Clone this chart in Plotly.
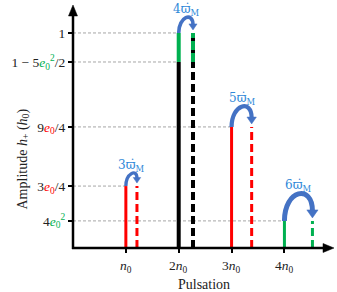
import plotly.graph_objects as go

# ---- data ----
harmonics = [1, 2, 3, 4]                      # n0, 2n0, 3n0, 4n0
x_tick_labels = ["<i>n</i><sub>0</sub>", "2<i>n</i><sub>0</sub>", "3<i>n</i><sub>0</sub>", "4<i>n</i><sub>0</sub>"]
shift = [0.21, 0.27, 0.38, 0.53]              # shift k*varpi_dot (in n0 units)
shift_labels = ["3ϖ̇<sub>M</sub>", "4ϖ̇<sub>M</sub>", "5ϖ̇<sub>M</sub>", "6ϖ̇<sub>M</sub>"]
amp_low = [0.288, 0.865, 0.563, 0.126]        # main part
amp_high = [None, 1.0, None, None]            # second order part on 2n0
bar_colors = ["#FF0000", "#000000", "#FF0000", "#00B050"]
y_tick_vals = [0.126, 0.288, 0.563, 0.865, 1.0]
GR = "#00B050"
RD = "#FF0000"
y_tick_labels = [
    "4<span style='color:%s'><i>e</i><sub>0</sub><sup>2</sup></span>" % GR,
    "3<span style='color:%s'><i>e</i><sub>0</sub></span>/4" % RD,
    "9<span style='color:%s'><i>e</i><sub>0</sub></span>/4" % RD,
    "1 − 5<span style='color:%s'><i>e</i><sub>0</sub><sup>2</sup></span>/2" % GR,
    "1",
]
grid_to = [4, 1, 3, 2, 2]                     # which harmonic each guide line reaches

# ---- layout constants ----
W, H = 337, 292
ML, MR, MT, MB = 73, 5, 5, 44
XR = [0, 4.9]
YR = [0, 1.13]
PW, PH = W - ML - MR, H - MT - MB
xppu = PW / (XR[1] - XR[0])
yppu = PH / (YR[1] - YR[0])
FONT = "Liberation Serif"
ARC = "#4472C4"
LBL = "#2F88D8"
TXT = "#222222"


def px(xp):   # pixel x -> paper
    return (xp - ML) / PW


def py(yp):   # pixel y -> paper
    return (H - MB - yp) / PH


fig = go.Figure()

# guide lines
shapes = []
for v, h in zip(y_tick_vals, grid_to):
    shapes.append(dict(type="line", xref="x", yref="y", x0=0, x1=h, y0=v, y1=v,
                       line=dict(color="#A6A6A6", width=1, dash="3px,2px"), layer="below"))

# bars
for i, h in enumerate(harmonics):
    xs, xd = h, h + shift[i]
    top = amp_high[i] if amp_high[i] is not None else amp_low[i]
    lw = 4 if bar_colors[i] == "#000000" else 3
    fig.add_trace(go.Scatter(x=[xs, xs], y=[0, amp_low[i]], mode="lines",
                             line=dict(color=bar_colors[i], width=lw), hoverinfo="skip"))
    fig.add_trace(go.Scatter(x=[xd, xd], y=[0, top], mode="lines",
                             line=dict(color=bar_colors[i], width=lw, dash="8px,4px"), hoverinfo="skip"))
    if amp_high[i] is not None:
        fig.add_trace(go.Scatter(x=[xs, xs], y=[amp_low[i], amp_high[i]], mode="lines",
                                 line=dict(color=GR, width=lw), hoverinfo="skip"))
        fig.add_trace(go.Scatter(x=[xd, xd], y=[amp_low[i], amp_high[i]], mode="lines",
                                 line=dict(color=GR, width=lw, dash="9px,3px"), hoverinfo="skip"))

# arcs with arrowheads and labels
annotations = []
for i, h in enumerate(harmonics):
    xs, xd = h, h + shift[i]
    top = amp_high[i] if amp_high[i] is not None else amp_low[i]
    wpx = shift[i] * xppu
    hpx = 0.85 * wpx
    lw = 2.2 + wpx / 10
    a = (2.5 + wpx / 9) / xppu          # half width of arrow head
    b = (3 + wpx / 7) / yppu            # arrow head length
    tip = top + 3 / yppu
    y0 = top
    y1 = tip + b
    c = hpx / 0.75 / yppu
    path = "M %f,%f C %f,%f %f,%f %f,%f" % (xs, y0, xs, y0 + c, xd, y1 + c * 0.85, xd, y1)
    shapes.append(dict(type="path", xref="x", yref="y", path=path,
                       line=dict(color=ARC, width=lw)))
    tri = "M %f,%f L %f,%f L %f,%f Z" % (xd - a, y1 + 1 / yppu, xd + a, y1 + 1 / yppu, xd, tip)
    shapes.append(dict(type="path", xref="x", yref="y", path=tri,
                       fillcolor=ARC, line=dict(color=ARC, width=0.5)))
    apex = y0 + hpx / yppu
    annotations.append(dict(x=(xs + xd) / 2, y=apex, yshift=11, xref="x", yref="y",
                            text=shift_labels[i], showarrow=False,
                            font=dict(family="DejaVu Serif", size=12, color=LBL)))

# axes lines with arrow heads (paper coordinates)
shapes.append(dict(type="line", xref="paper", yref="paper", x0=0, x1=0, y0=py(H - MB + 1), y1=py(MT + 8),
                   line=dict(color="#000", width=2.5)))
shapes.append(dict(type="line", xref="paper", yref="paper", x0=px(ML - 1), x1=px(W - 11), y0=0, y1=0,
                   line=dict(color="#000", width=2.5)))
shapes.append(dict(type="path", xref="paper", yref="paper",
                   path="M %f,%f L %f,%f L %f,%f Z" % (px(ML - 4.5), py(MT + 11), px(ML + 4.5), py(MT + 11),
                                                     px(ML), py(MT)),
                   fillcolor="#000", line=dict(color="#000", width=0.5)))
shapes.append(dict(type="path", xref="paper", yref="paper",
                   path="M %f,%f L %f,%f L %f,%f Z" % (px(W - 14), py(H - MB - 4.5), px(W - 14), py(H - MB + 4.5),
                                                     px(W - 3), py(H - MB)),
                   fillcolor="#000", line=dict(color="#000", width=0.5)))

# x tick labels
for h, t in zip(harmonics, x_tick_labels):
    annotations.append(dict(x=h, xref="x", y=py(266), yref="paper", yanchor="middle",
                            text=t, showarrow=False, font=dict(family=FONT, size=13.5, color=TXT)))

# axis titles
annotations.append(dict(xref="paper", yref="paper", x=px(12), y=py(159),
                        text="Amplitude <i>h</i><sub>+</sub> (<i>h</i><sub>0</sub>)",
                        textangle=-90, showarrow=False,
                        font=dict(family=FONT, size=14, color=TXT)))
annotations.append(dict(xref="paper", yref="paper", x=px(204), y=py(284), yanchor="middle",
                        text="Pulsation", showarrow=False,
                        font=dict(family=FONT, size=14, color=TXT)))

fig.update_layout(
    width=W, height=H, margin=dict(l=ML, r=MR, t=MT, b=MB, autoexpand=False),
    plot_bgcolor="white", paper_bgcolor="white", showlegend=False,
    shapes=shapes, annotations=annotations,
    font=dict(family=FONT, size=13, color=TXT),
    xaxis=dict(range=XR, tickvals=harmonics, ticktext=["", "", "", ""], ticks="outside",
               ticklen=4, tickwidth=1.5, tickcolor="#000", showgrid=False, zeroline=False,
               showline=False, automargin=False),
    yaxis=dict(range=YR, tickvals=y_tick_vals, ticktext=y_tick_labels, ticks="outside",
               ticklen=4, tickwidth=1.5, tickcolor="#000", showgrid=False, zeroline=False,
               showline=False, automargin=False, tickfont=dict(family=FONT, size=13.5, color=TXT)),
)

fig.write_html("out.html", config={"displayModeBar": False},
               post_script="document.body.style.margin='0';")
